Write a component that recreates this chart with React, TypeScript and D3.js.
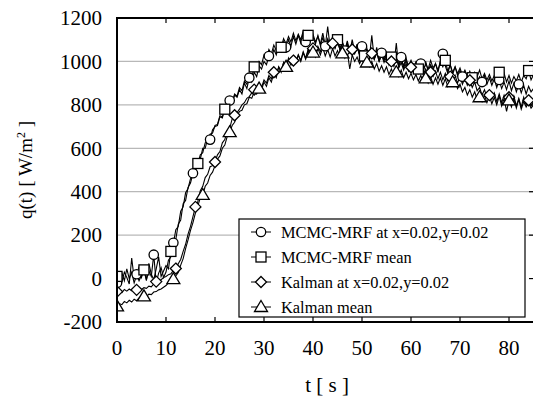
import React from "react";
import * as d3 from "d3";

const W = 533;
const H = 402;
const step = 0.5;
const xTicks = [0, 10, 20, 30, 40, 50, 60, 70, 80];
const yTicks = [-200, 0, 200, 400, 600, 800, 1000, 1200];
const gridValues = [200, 400, 600, 800, 1000];

// MCMC-MRF at x=0.02,y=0.02 (sampled every 0.5 s from t=0)
const mcmcPoint = [
  -20, 10, -15, 30, 5, -25, 95, 0, 20, -10,
  15, 60, -5, 35, 10, 110, -20, 25, 50, 5,
  30, 85, 100, 165, 180, 250, 270, 345, 360, 420,
  440, 485, 490, 545, 550, 600, 600, 645, 640, 685,
  700, 705, 745, 740, 785, 775, 820, 805, 845, 835,
  870, 850, 900, 875, 925, 905, 950, 930, 980, 965,
  1000, 985, 1025, 1010, 1055, 1030, 1070, 1045, 1090, 1065,
  1100, 1070, 1115, 1080, 1120, 1085, 1130, 1090, 1125, 1095,
  1115, 1080, 1120, 1075, 1110, 1070, 1160, 1065, 1100, 1060,
  1095, 1055, 1090, 1050, 1085, 1040, 1100, 1045, 1075, 1035,
  1070, 1025, 1060, 1020, 1055, 1010, 1050, 1000, 1040, 1005,
  1030, 985, 1025, 980, 1015, 975, 1020, 970, 1005, 965,
  1000, 960, 995, 955, 990, 950, 1000, 955, 985, 960,
  990, 950, 1000, 1035, 980, 945, 985, 940, 975, 935,
  960, 930, 955, 920, 945, 915, 940, 910, 930, 905,
  935, 895, 925, 890, 920, 880, 915, 875, 905, 870,
  910, 865, 900, 860, 895, 855, 890, 850, 885, 860,
  875,
];

// MCMC-MRF mean
const mcmcMean = [
  10, -30, 25, -10, 45, 0, 30, -20, 15, 55,
  5, 40, -10, 70, 20, -5, 45, 100, 10, 35,
  60, 45, 125, 160, 225, 240, 310, 330, 395, 415,
  460, 475, 515, 530, 570, 580, 625, 630, 665, 670,
  705, 710, 750, 745, 780, 770, 815, 810, 850, 840,
  880, 865, 910, 895, 940, 925, 975, 955, 1000, 985,
  1030, 1010, 1055, 1035, 1075, 1050, 1085, 1065, 1105, 1080,
  1115, 1090, 1130, 1095, 1125, 1100, 1140, 1105, 1120, 1100,
  1125, 1090, 1115, 1080, 1130, 1075, 1105, 1070, 1115, 1065,
  1100, 1060, 1085, 1050, 1095, 1045, 1070, 1040, 1080, 1030,
  1060, 1025, 1050, 1015, 1120, 1010, 1065, 1005, 1035, 1010,
  1040, 995, 1020, 990, 1030, 985, 1010, 980, 1015, 975,
  1005, 970, 995, 965, 1000, 960, 990, 965, 1005, 970,
  990, 960, 1000, 975, 1005, 955, 985, 950, 975, 945,
  970, 935, 960, 930, 955, 925, 950, 930, 960, 920,
  945, 915, 940, 910, 935, 920, 950, 915, 945, 905,
  935, 900, 930, 910, 940, 905, 935, 920, 958, 915,
  940,
];

// Kalman at x=0.02,y=0.02
const kalmanPoint = [
  -60, -55, -65, -50, -58, -48, -56, -45, -52, -48,
  -50, -42, -45, -35, -38, -25, -14, -10, -5, 5,
  10, 18, 22, 38, 46, 68, 88, 125, 158, 205,
  240, 285, 330, 355, 405, 425, 465, 480, 515, 520,
  537, 570, 585, 625, 640, 680, 692, 735, 752, 765,
  780, 800, 810, 830, 838, 855, 870, 862, 892, 880,
  915, 900, 935, 920, 950, 940, 975, 955, 995, 970,
  1015, 985, 1004, 995, 1030, 1005, 1045, 1015, 1055, 1025,
  1060, 1030, 1070, 1045, 1085, 1055, 1095, 1060, 1083, 1065,
  1090, 1055, 1085, 1050, 1075, 1040, 1055, 1035, 1065, 1030,
  1060, 1025, 1050, 1020, 1037, 1010, 1040, 1000, 1030, 995,
  1020, 990, 1000, 980, 1085, 970, 995, 960, 990, 955,
  973, 950, 980, 945, 975, 940, 965, 935, 950, 930,
  955, 920, 950, 915, 945, 910, 930, 905, 935, 900,
  930, 895, 925, 890, 913, 880, 905, 865, 880, 845,
  870, 835, 845, 825, 855, 815, 850, 810, 845, 815,
  835, 800, 840, 795, 830, 790, 835, 800, 821, 795,
  815,
];

// Kalman mean
const kalmanMean = [
  -128, -115, -120, -105, -112, -100, -108, -95, -102, -90,
  -88, -82, -84, -72, -74, -62, -60, -52, -48, -40,
  -32, -20, -12, -3, 12, 28, 62, 92, 138, 178,
  222, 258, 302, 335, 372, 385, 425, 440, 475, 490,
  520, 550, 565, 600, 615, 655, 674, 705, 720, 750,
  770, 775, 800, 805, 835, 830, 860, 850, 875, 870,
  905, 885, 925, 905, 945, 925, 975, 950, 995, 975,
  1005, 985, 1020, 995, 1030, 1000, 1040, 1010, 1050, 1025,
  1041, 1020, 1060, 1030, 1065, 1025, 1055, 1020, 1060, 1025,
  1050, 1020, 1037, 1015, 1045, 965, 1030, 1000, 1020, 990,
  1010, 980, 995, 975, 1000, 965, 990, 955, 980, 950,
  975, 940, 965, 935, 950, 930, 960, 925, 950, 920,
  945, 915, 940, 910, 935, 905, 922, 900, 930, 895,
  925, 895, 925, 890, 920, 885, 915, 904, 910, 875,
  895, 860, 880, 845, 870, 835, 860, 825, 835, 815,
  845, 810, 840, 805, 835, 800, 840, 795, 830, 770,
  821, 790, 830, 785, 825, 780, 815, 790, 810, 785,
  800,
];

// times (s) at which each series carries a marker
const circleTimes = [0, 4, 7.5, 11.5, 15.5, 19, 23, 27, 31, 34.5, 38.5, 42.5, 46.5, 50, 54, 58, 62, 66.5, 70.5, 74.5, 78, 82];
const squareTimes = [0, 5.5, 11, 16.5, 22, 28, 33.5, 39, 45, 50.5, 56, 61.5, 67, 72.5, 78, 84];
const diamondTimes = [0, 4, 8, 12, 16, 20, 24, 28, 32, 36, 40, 44, 48, 52, 56, 60, 64, 68, 72, 76, 80, 84];
const triangleTimes = [0, 5.5, 11.5, 17.5, 23, 29, 34.5, 40, 46, 51, 57, 63, 68.5, 74, 80];

const legendLabels = [
  "MCMC-MRF at x=0.02,y=0.02",
  "MCMC-MRF mean",
  "Kalman at x=0.02,y=0.02",
  "Kalman mean",
];

type Shape = "circle" | "square" | "diamond" | "triangle";

const series: { values: number[]; times: number[]; shape: Shape }[] = [
  { values: mcmcPoint, times: circleTimes, shape: "circle" },
  { values: mcmcMean, times: squareTimes, shape: "square" },
  { values: kalmanPoint, times: diamondTimes, shape: "diamond" },
  { values: kalmanMean, times: triangleTimes, shape: "triangle" },
];

const FONT = '"Liberation Serif", "Times New Roman", "DejaVu Serif", serif';
const txt = { fontFamily: FONT, fill: "#000" } as const;

function Marker({ shape, cx, cy }: { shape: Shape; cx: number; cy: number }) {
  const common = { fill: "#fff", stroke: "#000", strokeWidth: 1.3 };
  if (shape === "circle") return <circle cx={cx} cy={cy} r={4.7} {...common} />;
  if (shape === "square") return <rect x={cx - 5} y={cy - 5} width={10} height={10} {...common} />;
  if (shape === "diamond")
    return <path d={`M${cx},${cy - 5.5}L${cx + 5.5},${cy}L${cx},${cy + 5.5}L${cx - 5.5},${cy}Z`} {...common} />;
  return <path d={`M${cx},${cy - 6.5}L${cx + 6.5},${cy + 4.5}L${cx - 6.5},${cy + 4.5}Z`} {...common} />;
}

export default function App() {
  const x = d3.scaleLinear().domain([0, 85]).range([117, 533.5]);
  const y = d3.scaleLinear().domain([-200, 1200]).range([322, 18]);
  const line = d3
    .line<number>()
    .x((_, i) => x(i * step))
    .y((d) => y(d));

  const left = x(0);
  const right = 533;
  const top = y(1200);
  const bottom = y(-200);

  return (
    <svg width={W} height={H} style={{ position: "absolute", left: 0, top: 0, background: "#fff" }}>
      <defs>
        <clipPath id="plotClip">
          <rect x={left} y={top} width={right - left} height={bottom - top} />
        </clipPath>
      </defs>
      <rect x={0} y={0} width={W} height={H} fill="#fff" />

      {gridValues.map((v) => (
        <line key={v} x1={left} x2={right} y1={y(v)} y2={y(v)} stroke="#b8b8b8" strokeWidth={1.2} />
      ))}

      <g clipPath="url(#plotClip)">
        {series.map((s, k) => (
          <path key={k} d={line(s.values) || ""} fill="none" stroke="#000" strokeWidth={1.1} />
        ))}
        {series.map((s, k) =>
          s.times.map((t, j) => {
            const idx = Math.round(t / step);
            return <Marker key={`${k}-${j}`} shape={s.shape} cx={x(t)} cy={y(s.values[idx])} />;
          })
        )}
      </g>

      <line x1={left} x2={left} y1={top - 1} y2={bottom + 1} stroke="#000" strokeWidth={2} />
      <line x1={left} x2={right} y1={top} y2={top} stroke="#000" strokeWidth={2} />
      <line x1={left} x2={right} y1={bottom} y2={bottom} stroke="#000" strokeWidth={2} />

      {xTicks.map((t) => (
        <g key={t}>
          <line x1={x(t)} x2={x(t)} y1={bottom} y2={bottom - 5} stroke="#000" strokeWidth={1.2} />
          <line x1={x(t)} x2={x(t)} y1={top} y2={top + 5} stroke="#000" strokeWidth={1.2} />
          <text x={x(t)} y={355} textAnchor="middle" fontSize={21} style={txt}>
            {t}
          </text>
        </g>
      ))}
      {yTicks.map((v) => (
        <g key={v}>
          <line x1={right - 4} x2={right} y1={y(v)} y2={y(v)} stroke="#000" strokeWidth={1.2} />
          <text x={102} y={y(v)} dy="0.35em" textAnchor="end" fontSize={21} style={txt}>
            {v}
          </text>
        </g>
      ))}

      <text x={327} y={392} textAnchor="middle" fontSize={21} style={txt}>
        t [ s ]
      </text>
      <text transform={`translate(32,170) rotate(-90)`} textAnchor="middle" fontSize={19} style={txt}>
        q(t) [ W/m<tspan dy={-7} fontSize={12}>2</tspan>
        <tspan dy={7}> ]</tspan>
      </text>

      <rect x={239} y={219} width={286} height={98} fill="#fff" stroke="#000" strokeWidth={1.2} />
      {series.map((s, k) => {
        const ly = 232 + k * 25;
        return (
          <g key={k}>
            <line x1={251} x2={271} y1={ly} y2={ly} stroke="#000" strokeWidth={1} />
            <Marker shape={s.shape} cx={261} cy={ly} />
            <text x={281} y={ly} dy="0.35em" fontSize={16.4} style={txt}>
              {legendLabels[k]}
            </text>
          </g>
        );
      })}
    </svg>
  );
}
